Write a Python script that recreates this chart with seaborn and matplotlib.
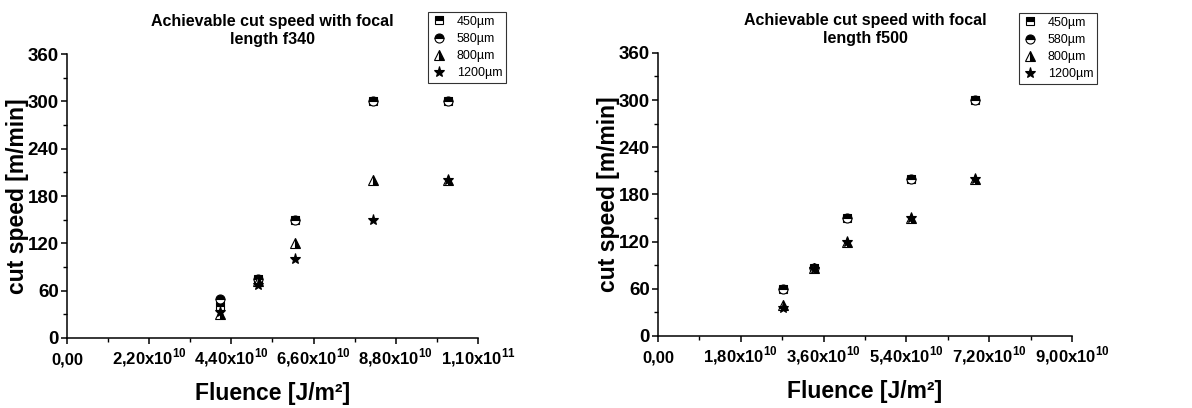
import matplotlib
matplotlib.use("Agg")
import matplotlib.pyplot as plt
from matplotlib.ticker import MultipleLocator
import numpy as np
import pandas as pd
import seaborn as sns

# focal length f340
fluence_f340 = [4.1e10, 5.1e10, 6.1e10, 8.2e10, 1.02e11]
speed_f340_450 = [40, 75, 150, 300, 300]
speed_f340_580 = [50, 75, 150, 300, 300]
speed_f340_800 = [30, 72, 120, 200, 200]
speed_f340_1200 = [33, 67, 100, 150, 200]

# focal length f500
fluence_f500 = [2.72e10, 3.39e10, 4.11e10, 5.5e10, 6.89e10]
speed_f500_450 = [60, 87, 150, 200, 300]
speed_f500_580 = [60, 87, 150, 200, 300]
speed_f500_800 = [40, 87, 120, 150, 200]
speed_f500_1200 = [35, 85, 120, 150, 200]

labels = ["450µm", "580µm", "800µm", "1200µm"]

sns.set_theme(style="ticks")
plt.rcParams["font.family"] = ["Liberation Sans", "DejaVu Sans"]
plt.rcParams["font.weight"] = "bold"
plt.rcParams["mathtext.fontset"] = "custom"
plt.rcParams["mathtext.bf"] = "Liberation Sans:bold"
plt.rcParams["mathtext.rm"] = "Liberation Sans:bold"
for k in ["text.color", "axes.labelcolor", "xtick.color", "ytick.color",
          "axes.edgecolor"]:
    plt.rcParams[k] = "black"

# marker, fillstyle, size
styles = [("s", "top", 6), ("o", "top", 6.5), ("^", "right", 7), ("*", "full", 8)]


def sci_label(v):
    if v <= 0:
        return "0,00"
    e = int(np.floor(np.log10(v) + 1e-9))
    m = v / 10 ** e
    return ("%.2f" % m).replace(".", ",") + "x10$^{\\mathbf{%d}}$" % e


def draw(ax, fluence, series, xmax, xstep, title, leg_xy):
    for (mk, fs, ms), lab, vals in zip(styles, labels, series):
        df = pd.DataFrame({"x": fluence, "y": vals})
        sns.lineplot(data=df, x="x", y="y", ax=ax, estimator=None, sort=False,
                     linestyle="", marker=mk, fillstyle=fs, markersize=ms,
                     color="black", markerfacecolor="black",
                     markerfacecoloralt="white", markeredgecolor="black",
                     markeredgewidth=0.8, label=lab)
    ax.set_xlim(0, xmax)
    ax.set_ylim(0, 360)
    xt = np.arange(6) * xstep
    ax.set_xticks(xt, [sci_label(v) for v in xt])
    ax.xaxis.set_minor_locator(MultipleLocator(xstep / 2))
    ax.yaxis.set_major_locator(MultipleLocator(60))
    ax.yaxis.set_minor_locator(MultipleLocator(30))
    ax.tick_params(axis="both", which="major", length=4, width=1.1,
                   labelsize=13.5, pad=2, color="black", labelcolor="black")
    ax.tick_params(axis="x", which="major", pad=15, labelsize=12)
    ax.tick_params(axis="both", which="minor", length=3, width=1.0,
                   color="black")
    for lbl in ax.get_xticklabels():
        lbl.set_verticalalignment("baseline")
        lbl.set_fontweight("bold")
    for lbl in ax.get_yticklabels():
        lbl.set_fontweight("bold")
    for side in ["left", "bottom"]:
        ax.spines[side].set_linewidth(1.1)
        ax.spines[side].set_color("black")
    sns.despine(ax=ax)
    ax.set_xlabel("Fluence [J/m²]", fontsize=16.5, fontweight="bold", labelpad=9)
    ax.set_ylabel("cut speed [m/min]", fontsize=16.5, fontweight="bold", labelpad=-1)
    ax.set_title(title, fontsize=11.5, fontweight="bold", pad=7, linespacing=1.3)
    leg = ax.legend(loc="upper left", bbox_to_anchor=leg_xy, frameon=True,
                    fancybox=False, edgecolor="black",
                    prop={"weight": "normal", "size": 9},
                    handlelength=1.2, handletextpad=0.8, labelspacing=0.42,
                    borderpad=0.3, borderaxespad=0)
    leg.get_frame().set_linewidth(0.8)


fig = plt.figure(figsize=(11.92, 4.08), dpi=100)
ax1 = fig.add_axes([0.0562, 0.1716, 0.3448, 0.696])
ax2 = fig.add_axes([0.552, 0.1765, 0.3473, 0.694])

draw(ax1, fluence_f340,
     [speed_f340_450, speed_f340_580, speed_f340_800, speed_f340_1200],
     1.1e11, 2.2e10, "Achievable cut speed with focal\nlength f340", (0.878, 1.148))
draw(ax2, fluence_f500,
     [speed_f500_450, speed_f500_580, speed_f500_800, speed_f500_1200],
     9.0e10, 1.8e10, "Achievable cut speed with focal\nlength f500", (0.872, 1.141))

fig.savefig("out.png", dpi=100)
